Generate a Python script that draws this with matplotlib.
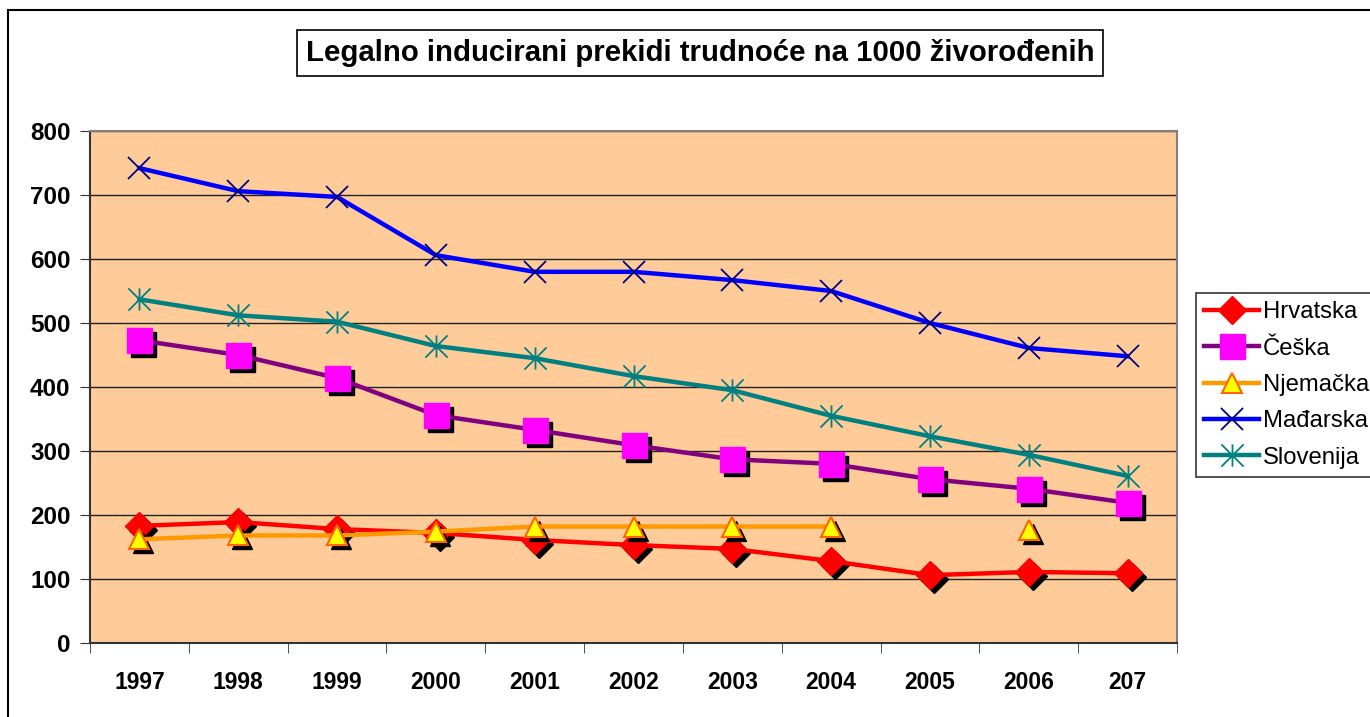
import matplotlib
matplotlib.use('Agg')
import matplotlib.pyplot as plt
import matplotlib.transforms as mtransforms
from matplotlib.path import Path
import numpy as np

plt.rcParams['font.family'] = ['Liberation Sans', 'DejaVu Sans']

years = ['1997', '1998', '1999', '2000', '2001', '2002', '2003', '2004', '2005', '2006', '207']
hrvatska = [183, 189, 178, 172, 161, 153, 147, 128, 106, 111, 109]
ceska = [473, 450, 414, 356, 333, 309, 287, 280, 256, 241, 219]
njemacka = [162, 168, 168, 174, 182, 182, 182, 182, np.nan, 176, np.nan]
madarska = [742, 706, 697, 606, 580, 580, 567, 550, 500, 461, 448]
slovenija = [537, 512, 502, 464, 445, 417, 395, 355, 323, 294, 261]

title = 'Legalno inducirani prekidi trudnoće na 1000 živorođenih'

# asterisk like excel: X plus vertical bar
asterisk = Path([(-1, -1), (1, 1), (-1, 1), (1, -1), (0, -1), (0, 1)],
                [Path.MOVETO, Path.LINETO, Path.MOVETO, Path.LINETO, Path.MOVETO, Path.LINETO])

W, H = 1370, 717
fig = plt.figure(figsize=(W / 100, H / 100), dpi=100)
ax = fig.add_axes([90 / W, 1 - 643 / H, (1177 - 90) / W, (643 - 131) / H])
ax.set_facecolor('#FFCC99')

x = np.arange(len(years))
shadow = mtransforms.offset_copy(ax.transData, fig=fig, x=4, y=-4, units='dots')

series = [
    ('Hrvatska', hrvatska, dict(color='#FF0000', marker='D', markersize=14, mfc='#FF0000', mec='#FF0000'), True),
    ('Češka', ceska, dict(color='#800080', marker='s', markersize=18, mfc='#FF00FF', mec='#FF00FF'), True),
    ('Njemačka', njemacka, dict(color='#FF9900', marker='^', markersize=15, mfc='#FFFF00', mec='#FF6600', mew=1.5), True),
    ('Mađarska', madarska, dict(color='#0000FF', marker='x', markersize=16, mfc='#000080', mec='#000080', mew=1.3), False),
    ('Slovenija', slovenija, dict(color='#008080', marker=asterisk, markersize=16, mfc='#008080', mec='#008080', mew=1.3), False),
]

handles = []
for i, (name, vals, style, has_shadow) in enumerate(series):
    z = 3 + i
    if has_shadow:
        ax.plot(x, vals, linestyle='none', marker=style['marker'], markersize=style['markersize'],
                color='black', transform=shadow, zorder=z)
    h, = ax.plot(x, vals, linewidth=3.2, label=name, zorder=z + 0.5, **style)
    handles.append(h)

ax.set_ylim(0, 800)
ax.set_yticks(range(0, 801, 100))
ax.set_xlim(-0.5, len(years) - 0.5)
ax.set_xticks(x)
ax.set_xticklabels(years)
ax.set_xticks(np.arange(-0.5, len(years), 1), minor=True)
ax.tick_params(axis='x', which='major', length=0, pad=20)
ax.tick_params(axis='x', which='minor', length=7, direction='out', color='#333333')
ax.tick_params(axis='y', length=7, direction='out', color='#333333', pad=7)
for lab in ax.get_xticklabels():
    lab.set_fontsize(16.5)
    lab.set_fontweight('bold')
for lab in ax.get_yticklabels():
    lab.set_fontsize(17.5)
    lab.set_fontweight('bold')

ax.grid(axis='y', color='#222222', linewidth=1.0)
ax.set_axisbelow(True)
ax.spines['top'].set_color('#808080')
ax.spines['right'].set_color('#808080')
ax.spines['left'].set_color('#333333')
ax.spines['bottom'].set_color('#333333')
for s in ax.spines.values():
    s.set_linewidth(1.5)

fig.text(700 / W, 1 - 53 / H, title, ha='center', va='center', fontsize=21.2, fontweight='bold',
         bbox=dict(boxstyle='square,pad=0.3', fc='white', ec='black', lw=1.2))

leg = fig.legend(handles=handles, loc='upper left', bbox_to_anchor=(1196 / W, 1 - 293 / H),
                 fontsize=17.2, frameon=True, fancybox=False, edgecolor='black',
                 handlelength=2.3, handletextpad=0.15, labelspacing=0.6, borderpad=0.35,
                 borderaxespad=0)
leg.get_frame().set_linewidth(1.2)

fig.add_artist(plt.Rectangle((8 / W, -0.05), 1.2, 1 - 10 / H + 0.05, transform=fig.transFigure,
                             fill=False, edgecolor='black', linewidth=1.5))

fig.savefig('out.png', dpi=100)
